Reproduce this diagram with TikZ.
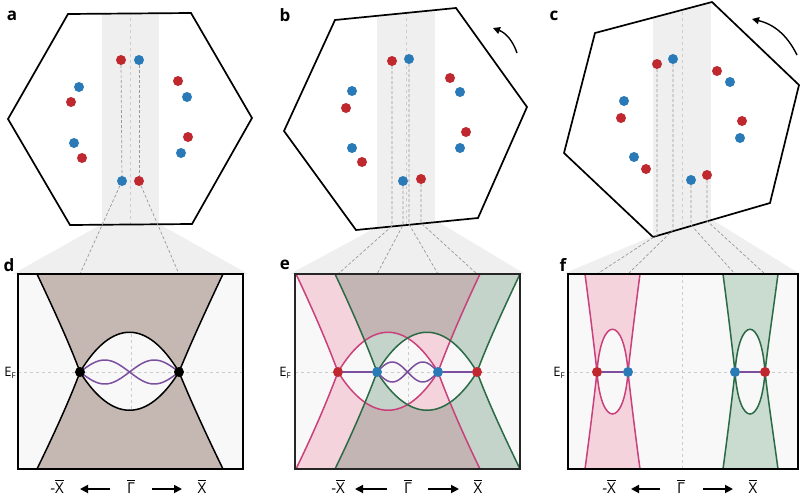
\documentclass[tikz,border=0pt]{standalone}
\usepackage{amsmath}
\usepackage{fontspec}
\setmainfont{Open Sans}
\usetikzlibrary{arrows.meta}
\definecolor{dred}{HTML}{C0282F}
\definecolor{dblue}{HTML}{2A7AB8}
\definecolor{brn}{HTML}{C5B8B3}
\definecolor{pinkf}{HTML}{F5D3DD}
\definecolor{greenf}{HTML}{CADBD0}
\definecolor{pinkl}{HTML}{C9407A}
\definecolor{greenl}{HTML}{2A6A45}
\definecolor{purp}{HTML}{7B4F9E}
\definecolor{strip}{HTML}{EFEFEF}
\definecolor{boxbg}{HTML}{F8F8F8}
\newcommand\ovb[1]{\leavevmode\setbox0\hbox{#1}\rlap{\raisebox{\dimexpr\ht0+1.5pt}{\rule{\wd0}{0.9pt}}}\box0}
\tikzset{
 rdot/.style={circle,fill=dred,inner sep=0pt,minimum size=10pt},
 bdot/.style={circle,fill=dblue,inner sep=0pt,minimum size=10pt},
 kdot/.style={circle,fill=black,inner sep=0pt,minimum size=10pt},
 hexa/.style={draw=black,line width=1.7pt,line join=miter},
 guide/.style={draw=gray!80,dashed,line width=0.7pt,dash pattern=on 3pt off 2pt},
 faint/.style={draw=gray!40,dashed,line width=0.6pt,dash pattern=on 3pt off 3pt},
 plotbox/.style={draw=black,line width=1.7pt},
 band/.style={line width=1.5pt},
 lbl/.style={font=\bfseries\fontsize{17}{17}\selectfont,inner sep=0pt},
 axl/.style={font=\fontsize{15}{15}\selectfont,inner sep=0pt},
 efl/.style={font=\fontsize{13}{13}\selectfont,inner sep=0pt,anchor=east},
 arr/.style={-{Triangle[length=8pt,width=8pt]},line width=1.8pt},
 rarr/.style={-{Triangle[length=7pt,width=7pt]},line width=1.4pt},
}
\begin{document}
\begin{tikzpicture}[x=1pt,y=-1pt]
\useasboundingbox (0,0) rectangle (800,498);
\fill[white] (0,0) rectangle (800,498);
% ---------- funnels ----------
\fill[strip] (102,224) -- (159,224) -- (248,274) -- (13,274) -- cycle;
\fill[strip] (377,227) -- (435,220) -- (525,274) -- (290,274) -- cycle;
\fill[strip] (653,236) -- (711,219) -- (800,274) -- (563,274) -- cycle;
% ---------- hexagon a ----------
\coordinate (a1) at (68,14); \coordinate (a2) at (191,13); \coordinate (a3) at (252,118);
\coordinate (a4) at (192,224); \coordinate (a5) at (70,225); \coordinate (a6) at (8,119);
\fill[white] (a1)--(a2)--(a3)--(a4)--(a5)--(a6)--cycle;
\begin{scope}
\clip (a1)--(a2)--(a3)--(a4)--(a5)--(a6)--cycle;
\fill[strip] (102,0) rectangle (159,240);
\draw[faint] (130,0) -- (130,240);
\end{scope}
\draw[hexa] (a1)--(a2)--(a3)--(a4)--(a5)--(a6)--cycle;
\node[rdot] (at1) at (121,60) {}; \node[bdot] (at2) at (139,60) {};
\node[bdot] (ab1) at (122,181) {}; \node[rdot] (ab2) at (139,181) {};
\node[bdot] at (79,87) {}; \node[rdot] at (71,102) {};
\node[bdot] at (74,143) {}; \node[rdot] at (82,158) {};
\node[rdot] at (178,81) {}; \node[bdot] at (187,97) {};
\node[rdot] at (188,137) {}; \node[bdot] at (181,153) {};
\draw[guide] (at1) -- (ab1);
\draw[guide] (at2) -- (ab2);
\coordinate (dT1) at (80,274); \coordinate (dT2) at (179,274);
\draw[guide] (ab1) -- (dT1);
\draw[guide] (ab2) -- (dT2);
% ---------- hexagon b ----------
\coordinate (b1) at (335,20); \coordinate (b2) at (456,8); \coordinate (b3) at (527,107);
\coordinate (b4) at (478,218); \coordinate (b5) at (356,230); \coordinate (b6) at (284,131);
\fill[white] (b1)--(b2)--(b3)--(b4)--(b5)--(b6)--cycle;
\begin{scope}
\clip (b1)--(b2)--(b3)--(b4)--(b5)--(b6)--cycle;
\fill[strip] (377,0) rectangle (435,240);
\draw[faint] (406,0) -- (406,240);
\end{scope}
\draw[hexa] (b1)--(b2)--(b3)--(b4)--(b5)--(b6)--cycle;
\node[rdot] (bt1) at (392,61) {}; \node[bdot] (bt2) at (409,59) {};
\node[bdot] (bb1) at (403,181) {}; \node[rdot] (bb2) at (421,179) {};
\node[rdot] at (450,78) {}; \node[bdot] at (460,92) {};
\node[bdot] at (352,91) {}; \node[rdot] at (346,108) {};
\node[bdot] at (352,148) {}; \node[rdot] at (362,162) {};
\node[rdot] at (466,132) {}; \node[bdot] at (460,148) {};
\coordinate (bh1) at (392,226); \coordinate (bh2) at (403,225);
\coordinate (bh3) at (409,224); \coordinate (bh4) at (421,223);
\coordinate (eT1) at (338,274); \coordinate (eT2) at (377,274);
\coordinate (eT3) at (438,274); \coordinate (eT4) at (477,274);
\draw[guide] (bt1) -- (bh1) -- (eT1);
\draw[guide] (bb1) -- (bh2) -- (eT2);
\draw[guide] (bt2) -- (bh3) -- (eT3);
\draw[guide] (bb2) -- (bh4) -- (eT4);
\coordinate (bA1) at (517,53); \coordinate (bA2) at (493,28);
\draw[rarr] (bA1) to[bend right=25] (bA2);
% ---------- hexagon c ----------
\coordinate (c1) at (595,33); \coordinate (c2) at (712,2); \coordinate (c3) at (799,85);
\coordinate (c4) at (770,203); \coordinate (c5) at (653,237); \coordinate (c6) at (564,153);
\fill[white] (c1)--(c2)--(c3)--(c4)--(c5)--(c6)--cycle;
\begin{scope}
\clip (c1)--(c2)--(c3)--(c4)--(c5)--(c6)--cycle;
\fill[strip] (653,0) rectangle (711,240);
\draw[faint] (682,0) -- (682,240);
\end{scope}
\draw[hexa] (c1)--(c2)--(c3)--(c4)--(c5)--(c6)--cycle;
\node[rdot] (ct1) at (657,64) {}; \node[bdot] (ct2) at (673,59) {};
\node[bdot] (cb1) at (691,180) {}; \node[rdot] (cb2) at (707,175) {};
\node[rdot] at (717,71) {}; \node[bdot] at (730,82) {};
\node[bdot] at (624,101) {}; \node[rdot] at (621,118) {};
\node[bdot] at (634,157) {}; \node[rdot] at (646,169) {};
\node[rdot] at (742,121) {}; \node[bdot] at (740,138) {};
\coordinate (ch1) at (657,235); \coordinate (ch2) at (673,230);
\coordinate (ch3) at (691,225); \coordinate (ch4) at (707,221);
\coordinate (fT1) at (597,274); \coordinate (fT2) at (628,274);
\coordinate (fT3) at (735,274); \coordinate (fT4) at (765,274);
\draw[guide] (ct1) -- (ch1) -- (fT1);
\draw[guide] (ct2) -- (ch2) -- (fT2);
\draw[guide] (cb1) -- (ch3) -- (fT3);
\draw[guide] (cb2) -- (ch4) -- (fT4);
\coordinate (cA1) at (797,55); \coordinate (cA2) at (752,19);
\draw[rarr] (cA1) to[bend right=25] (cA2);
% ---------- panel d ----------
\fill[boxbg] (18,274) rectangle (243,469);
\draw[faint] (18,372) -- (243,372);
\draw[faint] (131,274) -- (131,469);
\fill[brn,even odd rule]
 (37,274) .. controls (55,312) and (70,345) .. (80,372) .. controls (70,399) and (55,432) .. (37,469)
 -- (223,469) .. controls (205,432) and (190,399) .. (179,372) .. controls (190,345) and (205,312) .. (223,274) -- cycle
 (80,372) .. controls (112,319) and (147,319) .. (179,372) .. controls (147,423) and (112,423) .. (80,372) -- cycle;
\draw[band] (37,274) .. controls (55,312) and (70,345) .. (80,372) .. controls (70,399) and (55,432) .. (37,469);
\draw[band] (223,274) .. controls (205,312) and (190,345) .. (179,372) .. controls (190,399) and (205,432) .. (223,469);
\draw[band] (80,372) .. controls (112,319) and (147,319) .. (179,372) .. controls (147,423) and (112,423) .. (80,372);
\draw[purp,band] plot[domain=0:1,samples=40,smooth] ({80+99*\x},{372-12*sin(360*\x)});
\draw[purp,band] plot[domain=0:1,samples=40,smooth] ({80+99*\x},{372+12*sin(360*\x)});
\node[kdot] (dD1) at (80,372) {}; \node[kdot] (dD2) at (179,372) {};
\draw[plotbox] (18,274) rectangle (243,469);
% ---------- panel e ----------
\fill[boxbg] (295,274) rectangle (520,469);
\draw[faint] (295,372) -- (520,372);
\draw[faint] (408,274) -- (408,469);
\begin{scope}
\clip (295,274) rectangle (520,469);
\fill[pinkf,even odd rule]
 (296,274) .. controls (314,312) and (328,345) .. (338,372) .. controls (328,399) and (314,432) .. (296,469)
 -- (480,469) .. controls (462,432) and (448,399) .. (438,372) .. controls (448,345) and (462,312) .. (480,274) -- cycle
 (338,372) .. controls (370,319) and (406,319) .. (438,372) .. controls (406,423) and (370,423) .. (338,372) -- cycle;
\begin{scope}[blend mode=multiply]
\fill[greenf,even odd rule]
 (335,274) .. controls (353,312) and (367,345) .. (377,372) .. controls (367,399) and (353,432) .. (335,469)
 -- (520,469) .. controls (502,432) and (487,399) .. (477,372) .. controls (487,345) and (502,312) .. (520,274) -- cycle
 (377,372) .. controls (409,319) and (445,319) .. (477,372) .. controls (445,423) and (409,423) .. (377,372) -- cycle;
\end{scope}
\draw[pinkl,band] (296,274) .. controls (314,312) and (328,345) .. (338,372) .. controls (328,399) and (314,432) .. (296,469);
\draw[pinkl,band] (480,274) .. controls (462,312) and (448,345) .. (438,372) .. controls (448,399) and (462,432) .. (480,469);
\draw[pinkl,band] (338,372) .. controls (370,319) and (406,319) .. (438,372) .. controls (406,423) and (370,423) .. (338,372);
\draw[greenl,band] (335,274) .. controls (353,312) and (367,345) .. (377,372) .. controls (367,399) and (353,432) .. (335,469);
\draw[greenl,band] (520,274) .. controls (502,312) and (487,345) .. (477,372) .. controls (487,399) and (502,432) .. (520,469);
\draw[greenl,band] (377,372) .. controls (409,319) and (445,319) .. (477,372) .. controls (445,423) and (409,423) .. (377,372);
\end{scope}
\draw[purp,band] plot[domain=0:1,samples=40,smooth] ({377+61*\x},{372-10*sin(360*\x)});
\draw[purp,band] plot[domain=0:1,samples=40,smooth] ({377+61*\x},{372+10*sin(360*\x)});
\node[rdot] (eR1) at (338,372) {}; \node[bdot] (eB1) at (377,372) {};
\node[bdot] (eB2) at (438,372) {}; \node[rdot] (eR2) at (477,372) {};
\draw[purp,band] (eR1) -- (eB1);
\draw[purp,band] (eB2) -- (eR2);
\draw[plotbox,draw=black!85] (295,274) rectangle (520,469);
% ---------- panel f ----------
\fill[boxbg] (568,274) rectangle (798,469);
\draw[faint] (568,372) -- (798,372);
\draw[faint] (682,274) -- (682,469);
\fill[pinkf,even odd rule]
 (585,274) .. controls (590,312) and (594,345) .. (597,372) .. controls (594,399) and (590,432) .. (585,469)
 -- (640,469) .. controls (635,432) and (631,399) .. (628,372) .. controls (631,345) and (635,312) .. (640,274) -- cycle
 (597,372) .. controls (601,315) and (624,315) .. (628,372) .. controls (624,428) and (601,428) .. (597,372) -- cycle;
\fill[greenf,even odd rule]
 (723,274) .. controls (728,312) and (732,345) .. (735,372) .. controls (732,399) and (728,432) .. (723,469)
 -- (778,469) .. controls (773,432) and (768,399) .. (765,372) .. controls (768,345) and (773,312) .. (778,274) -- cycle
 (735,372) .. controls (739,315) and (761,315) .. (765,372) .. controls (761,428) and (739,428) .. (735,372) -- cycle;
\draw[pinkl,band] (585,274) .. controls (590,312) and (594,345) .. (597,372) .. controls (594,399) and (590,432) .. (585,469);
\draw[pinkl,band] (640,274) .. controls (635,312) and (631,345) .. (628,372) .. controls (631,399) and (635,432) .. (640,469);
\draw[pinkl,band] (597,372) .. controls (601,315) and (624,315) .. (628,372) .. controls (624,428) and (601,428) .. (597,372);
\draw[greenl,band] (723,274) .. controls (728,312) and (732,345) .. (735,372) .. controls (732,399) and (728,432) .. (723,469);
\draw[greenl,band] (778,274) .. controls (773,312) and (768,345) .. (765,372) .. controls (768,399) and (773,432) .. (778,469);
\draw[greenl,band] (735,372) .. controls (739,315) and (761,315) .. (765,372) .. controls (761,428) and (739,428) .. (735,372);
\node[rdot] (fR1) at (597,372) {}; \node[bdot] (fB1) at (628,372) {};
\node[bdot] (fB2) at (735,372) {}; \node[rdot] (fR2) at (765,372) {};
\draw[purp,band] (fR1) -- (fB1);
\draw[purp,band] (fB2) -- (fR2);
\draw[plotbox] (568,274) rectangle (798,469);
% ---------- labels ----------
\node[lbl] (la) at (12,16) {a};
\node[lbl] (lb) at (285,15) {b};
\node[lbl] (lc) at (554,16) {c};
\node[lbl] (ld) at (9,265) {d};
\node[lbl] (le) at (285,265) {e};
\node[lbl] (lf) at (563,265) {f};
\node[efl] (efd) at (16,373) {E\raisebox{-2pt}{\fontsize{8}{8}\selectfont F}};
\node[efl] (efe) at (291,373) {E\raisebox{-2pt}{\fontsize{8}{8}\selectfont F}};
\node[efl] (eff) at (565,373) {E\raisebox{-2pt}{\fontsize{8}{8}\selectfont F}};
% d axis
\node[axl] (dmx) at (57,487) {-\ovb{X}};
\node[axl] (dg) at (131,487) {\ovb{Γ}};
\node[axl] (dx) at (202,487) {\ovb{X}};
\coordinate (dl1) at (110,489); \coordinate (dl2) at (80,489);
\coordinate (dr1) at (152,489); \coordinate (dr2) at (182,489);
\draw[arr] (dl1) -- (dl2); \draw[arr] (dr1) -- (dr2);
% e axis
\node[axl] (emx) at (338,487) {-\ovb{X}};
\node[axl] (eg) at (408,487) {\ovb{Γ}};
\node[axl] (ex) at (478,487) {\ovb{X}};
\coordinate (el1) at (387,489); \coordinate (el2) at (355,489);
\coordinate (er1) at (428,489); \coordinate (er2) at (459,489);
\draw[arr] (el1) -- (el2); \draw[arr] (er1) -- (er2);
% f axis
\node[axl] (fmx) at (609,487) {-\ovb{X}};
\node[axl] (fg) at (681,487) {\ovb{Γ}};
\node[axl] (fx) at (753,487) {\ovb{X}};
\coordinate (fl1) at (660,489); \coordinate (fl2) at (631,489);
\coordinate (fr1) at (703,489); \coordinate (fr2) at (733,489);
\draw[arr] (fl1) -- (fl2); \draw[arr] (fr1) -- (fr2);
\end{tikzpicture}
\end{document}
